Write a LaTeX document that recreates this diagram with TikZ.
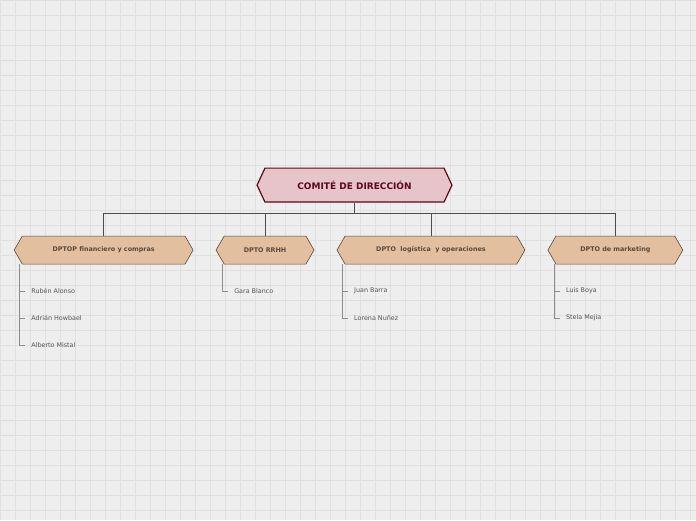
\documentclass[tikz,border=0pt]{standalone}
\usepackage{fontspec}
\setmainfont{DejaVu Sans}
\usetikzlibrary{shapes.symbols}
\definecolor{bgc}{HTML}{EEEEEE}
\definecolor{gridc}{HTML}{E0E0E0}
\definecolor{topfill}{HTML}{E6C4CA}
\definecolor{topline}{HTML}{5A0A1A}
\definecolor{deptfill}{HTML}{E2BF9F}
\definecolor{deptline}{HTML}{5A4A3A}
\definecolor{itemc}{HTML}{555555}
\tikzset{
    comite/.style={signal, signal to=west and east, signal pointer angle=130,
        draw=topline, fill=topfill, line width=1.2pt, text=topline,
        font=\bfseries\fontsize{9}{10}\selectfont, minimum width=195pt,
        minimum height=34pt, inner sep=0pt},
    dept/.style={signal, signal to=west and east, signal pointer angle=120,
        draw=deptline, fill=deptfill, line width=0.6pt, text=deptline,
        font=\bfseries\fontsize{6.4}{7}\selectfont, minimum height=28pt, inner sep=0pt},
    member/.style={anchor=west, text=itemc, font=\fontsize{6.4}{7}\selectfont, inner sep=0pt},
    link/.style={draw=black!70, line width=0.8pt},
    sublink/.style={draw=black!45, line width=0.5pt},
}
\begin{document}
\begin{tikzpicture}[x=1pt,y=-1pt]
	\fill[bgc] (0,0) rectangle (696,520);
	\draw[gridc, line width=0.4pt, step=15pt] (0,0) grid (696,520);
	\useasboundingbox (0,0) rectangle (696,520);
	\node[comite] (top) at (354.5,185) {COMITÉ DE DIRECCIÓN};
	\node[dept, minimum width=179pt] (fin) at (103.5,250) {DPTOP financiero y compras};
	\node[dept, minimum width=98pt] (rrhh) at (265,250) {DPTO RRHH};
	\node[dept, minimum width=188pt] (log) at (431,250) {DPTO\ \ logística\ \ y operaciones};
	\node[dept, minimum width=135pt] (mkt) at (615.5,250) {DPTO de marketing};
	\coordinate (bus) at (354.5,213);
	\draw[link] (top.south) -- (bus);
	\foreach \d in {fin,rrhh,log,mkt}
		\draw[link] (bus) -| (\d.north);
	% miembros
	\node[member] (m1) at (31,291) {Rubén Alonso};
	\node[member] (m2) at (31,318) {Adrián Howbael};
	\node[member] (m3) at (31,345) {Alberto Mistal};
	\node[member] (m4) at (234,291) {Gara Blanco};
	\node[member] (m5) at (354,291) {Juan Barra};
	\node[member] (m6) at (354,318) {Lorena Nuñez};
	\node[member] (m7) at (566,291) {Luis Boya};
	\node[member] (m8) at (566,318) {Stela Mejía};
	\foreach \m/\x in {m1/19,m2/19,m3/19}
		\draw[sublink] (\x,264) |- ([xshift=-6pt]\m.west);
	\draw[sublink] (222,264) |- ([xshift=-6pt]m4.west);
	\foreach \m in {m5,m6}
		\draw[sublink] (342,264) |- ([xshift=-6pt]\m.west);
	\foreach \m in {m7,m8}
		\draw[sublink] (554,264) |- ([xshift=-6pt]\m.west);
\end{tikzpicture}
\end{document}
